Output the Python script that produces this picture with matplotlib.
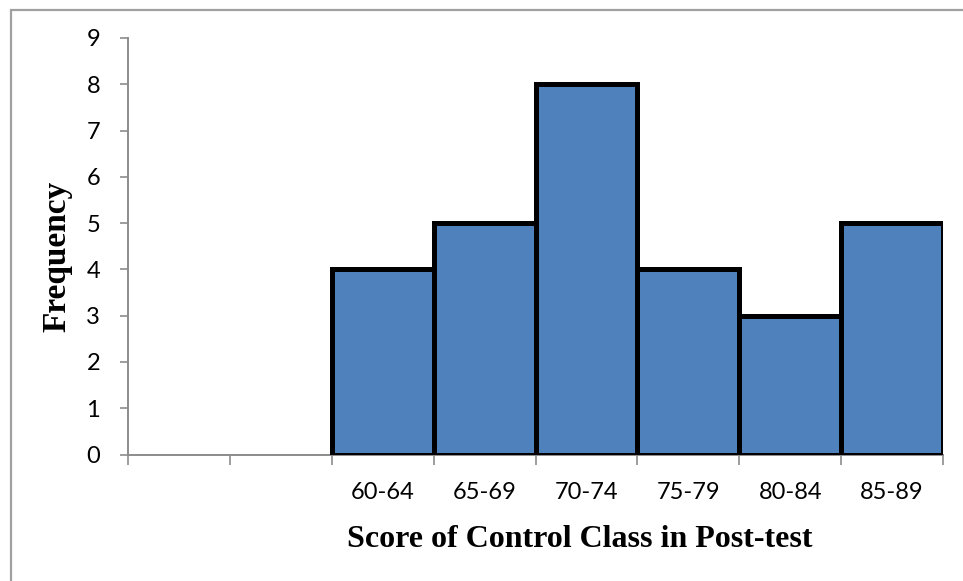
import matplotlib.pyplot as plt
from matplotlib.patches import Rectangle
import numpy as np

# score bands of the control class in the post-test
score_bands = ['60-64', '65-69', '70-74', '75-79', '80-84', '85-89']
frequency = [4, 5, 8, 4, 3, 5]
n_empty = 2  # two empty category slots on the left

fig = plt.figure(figsize=(9.63, 5.81), dpi=100)
ax = fig.add_axes([128 / 963, 1 - 454.5 / 581, (943 - 128) / 963, (454.5 - 38) / 581])

# outer chart frame (only top and left edges are visible)
fig.patches.append(Rectangle((11 / 963, -0.2), 1.2, 1.2 - 9.5 / 581,
                             transform=fig.transFigure, fill=False,
                             edgecolor='#a0a0a0', linewidth=1.6))

pos = np.arange(len(score_bands)) + n_empty
ax.bar(pos, frequency, width=1.0, color='#4f81bd', edgecolor='black',
       linewidth=3.6, zorder=3)

n_slots = len(score_bands) + n_empty
ax.set_xlim(-0.5, n_slots - 0.5)
ax.set_ylim(0, 9)

tick_font = dict(family='Lato', size=17)
ax.set_yticks(range(10))
ax.set_yticklabels([str(i) for i in range(10)], fontdict=tick_font)
ax.tick_params(axis='y', length=6, width=1.2, color='#8c8c8c', pad=14)

# labels sit in the slot centres, tick marks on the slot borders
ax.set_xticks(pos)
ax.set_xticklabels(score_bands, fontdict=tick_font)
ax.tick_params(axis='x', which='major', length=0, pad=20)
ax.set_xticks(np.arange(n_slots + 1) - 0.5, minor=True)
ax.tick_params(axis='x', which='minor', length=7, width=1.2, color='#8c8c8c')

for side in ('top', 'right'):
    ax.spines[side].set_visible(False)
for side in ('left', 'bottom'):
    ax.spines[side].set_color('#8c8c8c')
    ax.spines[side].set_linewidth(1.4)

ax.set_xlabel('Score of Control Class in Post-test', family='Liberation Serif',
              fontweight='bold', fontsize=23)
ax.xaxis.set_label_coords((580 - 128) / 815, -(525 - 454.5) / 416.5)
ax.set_ylabel('Frequency', family='Liberation Serif', fontweight='bold',
              fontsize=24)
ax.yaxis.set_label_coords(-(128 - 72) / 815, (454.5 - 256) / 416.5)

fig.savefig('out.png', dpi=100)
